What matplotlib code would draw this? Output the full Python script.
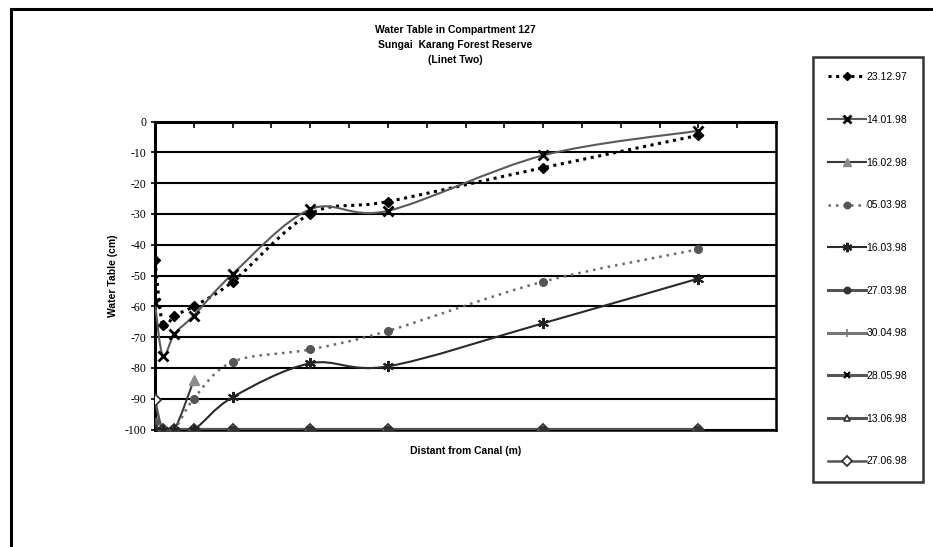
import matplotlib
matplotlib.use("Agg")
import matplotlib.pyplot as plt
from matplotlib.path import Path
from matplotlib.patches import PathPatch, Rectangle
from matplotlib.lines import Line2D

plt.rcParams['axes.unicode_minus'] = False

# ---- data ----
distance = [0, 2, 5, 10, 20, 40, 60, 100, 140]
d_2312 = [-45, -66, -63, -60, -52, -30, -26, -15, -4.5]
d_1401 = [-59, -76, -69, -63, -49.5, -28.5, -29, -11, -3]
d_1602_x = [0, 2, 5, 10]
d_1602 = [-100, -100, -100, -84]
d_0503 = [-97.5, -100, -100, -90, -78, -74, -68, -52, -41.5]
d_1603 = [-100, -100, -100, -100, -89.5, -78.5, -79.5, -65.5, -51]
d_2703 = [-100, -100, -100, -100, -100, -100, -100, -100, -100]
d_3004 = [-100, -100, -100, -100, -100, -100, -100, -100, -100]
d_2805 = [-100, -100, -100, -100, -100, -100, -100, -100, -100]
d_1306 = [-100, -100, -100, -100, -100, -100, -100, -100, -100]
d_2706 = [-90.5, -100, -100, -100, -100, -100, -100, -100, -100]

yticks = [0, -10, -20, -30, -40, -50, -60, -70, -80, -90, -100]

W, H = 933, 547
fig = plt.figure(figsize=(W / 100, H / 100), dpi=100)

# outer chart border (left/top visible)
fig.patches.append(Rectangle((11 / W, -0.05), 1.1, 1 - 9 / H + 0.05, transform=fig.transFigure,
                             fill=False, edgecolor='black', linewidth=2.2))

ax = fig.add_axes([155 / W, 1 - 429.5 / H, (776 - 155) / W, (429.5 - 121.5) / H])
ax.set_xlim(0, 160)
ax.set_ylim(-100, 0)


def smooth(xs, ys):
    pts = list(zip(xs, ys))
    n = len(pts)
    verts = [pts[0]]
    codes = [Path.MOVETO]
    for i in range(n - 1):
        p0 = pts[i - 1] if i > 0 else pts[i]
        p1 = pts[i]
        p2 = pts[i + 1]
        p3 = pts[i + 2] if i + 2 < n else pts[i + 1]
        c1 = (p1[0] + (p2[0] - p0[0]) / 6, p1[1] + (p2[1] - p0[1]) / 6)
        c2 = (p2[0] - (p3[0] - p1[0]) / 6, p2[1] - (p3[1] - p1[1]) / 6)
        verts += [c1, c2, p2]
        codes += [Path.CURVE4] * 3
    return Path(verts, codes)


star = (6, 2, 0)
series = [
    ("23.12.97", distance, d_2312, dict(color='black', ls=(0, (1, 1.5)), lw=2.2),
     dict(marker='D', ms=5, mfc='black', mec='black'), 4.2),
    ("14.01.98", distance, d_1401, dict(color='#5a5a5a', ls='-', lw=1.5),
     dict(marker='x', ms=7, mfc='black', mec='black', mew=2.0), 4.3),
    ("16.02.98", d_1602_x, d_1602, dict(color='#3a3a3a', ls='-', lw=1.5),
     dict(marker='^', ms=7, mfc='#8c8c8c', mec='#8c8c8c'), 4.1),
    ("05.03.98", distance, d_0503, dict(color='#6a6a6a', ls=(0, (1, 2)), lw=1.8),
     dict(marker='o', ms=5.5, mfc='#555555', mec='#555555'), 4.1),
    ("16.03.98", distance, d_1603, dict(color='#2a2a2a', ls='-', lw=1.5),
     dict(marker=star, ms=8, mfc='#222222', mec='#222222', mew=1.5), 4.2),
    ("27.03.98", distance, d_2703, dict(color='#555555', ls='-', lw=2.2),
     dict(marker='o', ms=5.5, mfc='#333333', mec='#333333'), 4.0),
    ("30.04.98", distance, d_3004, dict(color='#777777', ls='-', lw=2.2),
     dict(marker='+', ms=6, mfc='#777777', mec='#777777', mew=1.2), 3.9),
    ("28.05.98", distance, d_2805, dict(color='#555555', ls='-', lw=2.2),
     dict(marker='x', ms=5, mfc='black', mec='black', mew=1.5), 3.95),
    ("13.06.98", distance, d_1306, dict(color='#555555', ls='-', lw=2.2),
     dict(marker='^', ms=5, mfc='white', mec='#333333', mew=1.2), 3.8),
    ("27.06.98", distance, d_2706, dict(color='#555555', ls='-', lw=1.8),
     dict(marker='D', ms=6, mfc='white', mec='#333333', mew=1.3), 3.7),
]

handles = []
for label, xs, ys, lstyle, mstyle, mz in series:
    patch = PathPatch(smooth(xs, ys), fill=False, edgecolor=lstyle['color'],
                      linestyle=lstyle['ls'], linewidth=lstyle['lw'], zorder=3,
                      capstyle='butt')
    ax.add_patch(patch)
    ax.plot(xs, ys, linestyle='none', zorder=mz, **mstyle)
    handles.append(Line2D([0], [0], color=lstyle['color'], linestyle=lstyle['ls'],
                          linewidth=lstyle['lw'], label=label,
                          **{k: (v * 0.85 if k == 'ms' else v) for k, v in mstyle.items()}))

# gridlines
ax.set_yticks(yticks)
ax.set_yticklabels([str(v) for v in yticks], family='Liberation Serif', fontsize=8.5)
ax.yaxis.grid(True, color='black', linewidth=1.5)
ax.set_axisbelow(True)

ax.xaxis.tick_top()
ax.set_xticks(list(range(0, 161, 10)))
ax.tick_params(axis='x', direction='in', length=4, width=1.2, labeltop=False, labelbottom=False)
ax.tick_params(axis='y', direction='out', length=3, width=1.2, pad=3)
for s in ax.spines.values():
    s.set_linewidth(1.8)
    s.set_color('black')
ax.spines['left'].set_linewidth(2.2)
ax.spines['top'].set_linewidth(2.2)

ax.set_ylabel("Water Table (cm)", family='Liberation Sans', fontweight='bold', fontsize=7.5, labelpad=5)
ax.set_xlabel("Distant from Canal (m)", family='Liberation Sans', fontweight='bold', fontsize=7.5, labelpad=12)

fig.text(455 / W, 1 - 45 / H, "Water Table in Compartment 127\nSungai  Karang Forest Reserve\n(Linet Two)",
         ha='center', va='center', family='Liberation Sans', fontweight='bold', fontsize=7.5,
         linespacing=1.6)

leg = fig.legend(handles=handles, loc='upper left', bbox_to_anchor=(813 / W, 1 - 57 / H),
                 prop={'family': 'Liberation Sans', 'size': 7.5}, frameon=True, fancybox=False,
                 edgecolor='black', borderpad=1.45, labelspacing=3.14, handlelength=3.6,
                 handletextpad=0.1, borderaxespad=0)
leg.get_frame().set_linewidth(1.8)
leg.get_frame().set_boxstyle('square', pad=0)

fig.savefig("out.png", dpi=100)
